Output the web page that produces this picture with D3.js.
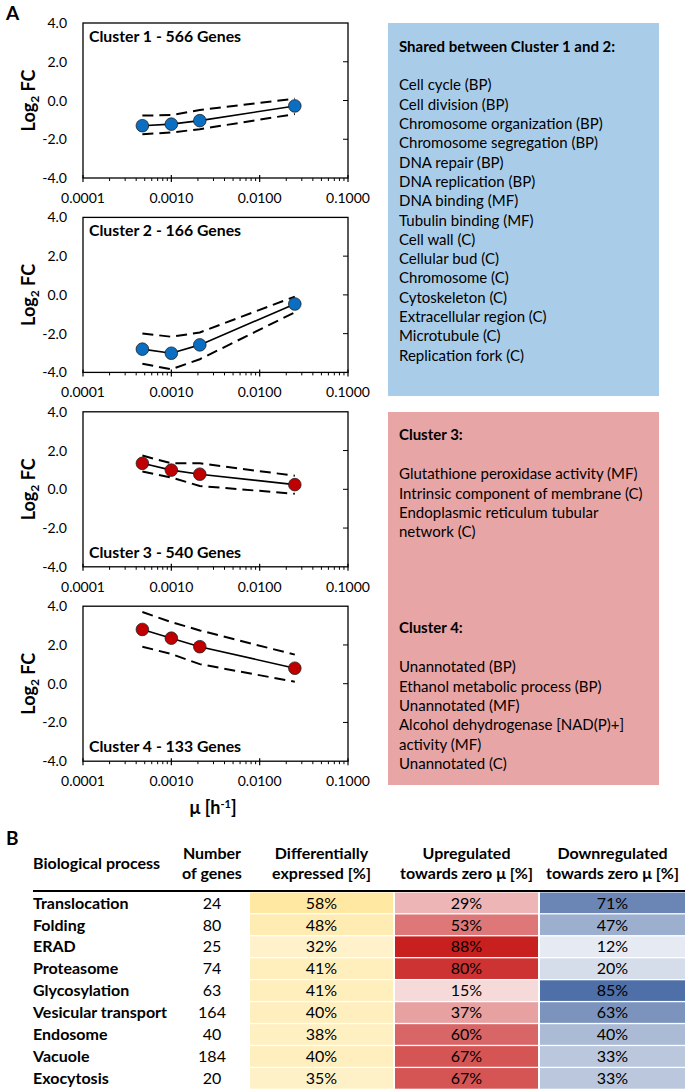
<!DOCTYPE html>
<html><head><meta charset="utf-8">
<script src="https://cdn.jsdelivr.net/npm/d3@7"></script>
<style>
html,body{margin:0;padding:0;background:#fff;}
svg text{font-family:Lato, "Open Sans", sans-serif;fill:#000;}
</style></head>
<body><svg id="c" width="685" height="1090"></svg>
<script>
// ---------- Data ----------
const growthRates = [0.00047, 0.001, 0.0021, 0.025];
const clusterNames = ["Cluster 1 - 566 Genes","Cluster 2 - 166 Genes","Cluster 3 - 540 Genes","Cluster 4 - 133 Genes"];
const clusterMean = [
  [-1.30,-1.22,-1.04,-0.28],
  [-2.80,-3.01,-2.58,-0.47],
  [1.34,0.99,0.78,0.24],
  [2.80,2.35,1.91,0.80]
];
const clusterUpper = [
  [-0.78,-0.75,-0.49,0.09],
  [-1.99,-2.16,-1.94,-0.09],
  [1.74,1.34,1.34,0.70],
  [3.70,3.18,2.75,1.50]
];
const clusterLower = [
  [-1.74,-1.65,-1.48,-0.70],
  [-3.55,-3.84,-3.32,-0.90],
  [0.92,0.61,0.17,-0.23],
  [1.91,1.53,1.01,0.10]
];
const yTicks = [-4,-2,0,2,4];
const xTicks = [0.0001,0.001,0.01,0.1];

const sharedTitle = "Shared between Cluster 1 and 2:";
const sharedTerms = ["Cell cycle (BP)","Cell division (BP)","Chromosome organization (BP)","Chromosome segregation (BP)","DNA repair (BP)","DNA replication (BP)","DNA binding (MF)","Tubulin binding (MF)","Cell wall (C)","Cellular bud (C)","Chromosome (C)","Cytoskeleton (C)","Extracellular region (C)","Microtubule (C)","Replication fork (C)"];
const cluster3Title = "Cluster 3:";
const cluster3Terms = ["Glutathione peroxidase activity (MF)","Intrinsic component of membrane (C)","Endoplasmic reticulum tubular","network (C)"];
const cluster4Title = "Cluster 4:";
const cluster4Terms = ["Unannotated (BP)","Ethanol metabolic process (BP)","Unannotated (MF)","Alcohol dehydrogenase [NAD(P)+]","activity (MF)","Unannotated (C)"];

const processes = ["Translocation","Folding","ERAD","Proteasome","Glycosylation","Vesicular transport","Endosome","Vacuole","Exocytosis"];
const nGenes = [24,80,25,74,63,164,40,184,20];
const diffExpressed = [58,48,32,41,41,40,38,40,35];
const upregulated = [29,53,88,80,15,37,60,67,67];
const downregulated = [71,47,12,20,85,63,40,33,33];

// ---------- Layout ----------
const svg = d3.select("#c");
const plotL = 83, plotR = 348, plotH = 155, firstTop = 23, panelStep = 194.4;
const x = d3.scaleLog().domain([0.0001,0.1]).range([plotL, plotR]);
const colors = ["#0a6fc2","#0a6fc2","#c00000","#c00000"];

svg.append("text").attr("x",6).attr("y",20).attr("font-size",19).attr("font-weight","bold").text("A");

clusterNames.forEach((name,i)=>{
  const top = firstTop + i*panelStep, bot = top + plotH;
  const y = d3.scaleLinear().domain([-4,4]).range([bot, top]);
  const g = svg.append("g");
  g.append("rect").attr("x",plotL).attr("y",top).attr("width",plotR-plotL).attr("height",plotH)
    .attr("fill","none").attr("stroke","#000").attr("stroke-width",1.3);
  yTicks.forEach(t=>{
    g.append("text").attr("x",67).attr("y",y(t)).attr("dy","0.36em").attr("text-anchor","end")
      .attr("font-size",14).text(t.toFixed(1));
    if(t>-4 && t<4) g.append("line").attr("x1",plotR-5).attr("x2",plotR).attr("y1",y(t)).attr("y2",y(t)).attr("stroke","#000").attr("stroke-width",1);
  });
  const minors = [];
  for(let e=-4;e<-1;e++){ for(let k=2;k<=9;k++) minors.push(k*Math.pow(10,e)); }
  minors.forEach(v=>{
    g.append("line").attr("x1",x(v)).attr("x2",x(v)).attr("y1",bot).attr("y2",bot+3).attr("stroke","#000").attr("stroke-width",1);
  });
  xTicks.forEach(v=>{
    g.append("line").attr("x1",x(v)).attr("x2",x(v)).attr("y1",bot-3).attr("y2",bot+4).attr("stroke","#000").attr("stroke-width",1.2);
    g.append("text").attr("x",x(v)).attr("y",bot+20).attr("dy","0.36em").attr("text-anchor","middle")
      .attr("font-size",14).text(v.toFixed(4));
  });
  const yt = g.append("text").attr("transform",`translate(35,${(top+bot)/2}) rotate(-90)`)
    .attr("text-anchor","middle").attr("font-size",18).attr("font-weight","bold");
  yt.append("tspan").text("Log");
  yt.append("tspan").attr("font-size",12).attr("dy",4).text("2");
  yt.append("tspan").attr("dy",-4).text(" FC");
  const line = d3.line().x((d,j)=>x(growthRates[j])).y(d=>y(d));
  g.append("path").attr("d",line(clusterUpper[i])).attr("fill","none").attr("stroke","#000").attr("stroke-width",2).attr("stroke-dasharray","11,6");
  g.append("path").attr("d",line(clusterLower[i])).attr("fill","none").attr("stroke","#000").attr("stroke-width",2).attr("stroke-dasharray","11,6");
  g.append("path").attr("d",line(clusterMean[i])).attr("fill","none").attr("stroke","#000").attr("stroke-width",1.6);
  g.selectAll("circle").data(clusterMean[i]).join("circle")
    .attr("cx",(d,j)=>x(growthRates[j])).attr("cy",d=>y(d)).attr("r",6.3)
    .attr("fill",colors[i]).attr("stroke","#222").attr("stroke-width",0.8);
  g.append("text").attr("x",89).attr("y", i<2 ? top+19 : bot-9).attr("font-size",15.8).attr("font-weight","bold").text(name);
});

svg.append("text").attr("x",213).attr("y",808).attr("dy","0.36em").attr("text-anchor","middle")
  .attr("font-size",18).attr("font-weight","bold")
  .call(t=>{ t.append("tspan").text("μ [h"); t.append("tspan").attr("font-size",11).attr("dy",-6).text("-1"); t.append("tspan").attr("dy",6).text("]"); });

// ---------- Text boxes ----------
const boxX = 388, boxW = 271, textX = 399, lineH = 19.3;
svg.append("rect").attr("x",boxX).attr("y",23).attr("width",boxW).attr("height",373).attr("fill","#a9cde9");
svg.append("rect").attr("x",boxX).attr("y",412).attr("width",boxW).attr("height",373).attr("fill","#e8a5a5");
function block(title, terms, titleY, firstY){
  svg.append("text").attr("x",textX).attr("y",titleY).attr("dy","0.36em").attr("font-size",15).attr("font-weight","bold").text(title);
  terms.forEach((t,k)=>svg.append("text").attr("x",textX).attr("y",firstY+k*lineH).attr("dy","0.36em").attr("font-size",15).text(t));
}
block(sharedTitle, sharedTerms, 47, 85);
block(cluster3Title, cluster3Terms, 435, 474);
block(cluster4Title, cluster4Terms, 628, 667);

// ---------- Table ----------
svg.append("text").attr("x",6).attr("y",845).attr("font-size",19).attr("font-weight","bold").text("B");
const headerY1 = 853, headerY2 = 873, fs = 16;
const colNum = 212;
const cols = [
  {x0:250,x1:393,vals:diffExpressed,base:"#ffd75e",h:["Differentially","expressed [%]"]},
  {x0:395,x1:538,vals:upregulated,base:"#c00000",h:["Upregulated","towards zero μ [%]"]},
  {x0:540,x1:685,vals:downregulated,base:"#2f5597",h:["Downregulated","towards zero μ [%]"]}
];
svg.append("text").attr("x",33).attr("y",863).attr("dy","0.36em").attr("font-size",fs).attr("font-weight","bold").text("Biological process");
svg.append("text").attr("x",colNum).attr("y",headerY1).attr("dy","0.36em").attr("text-anchor","middle").attr("font-size",fs).attr("font-weight","bold").text("Number");
svg.append("text").attr("x",colNum).attr("y",headerY2).attr("dy","0.36em").attr("text-anchor","middle").attr("font-size",fs).attr("font-weight","bold").text("of genes");
cols.forEach(c=>{
  const cx=(c.x0+c.x1)/2;
  svg.append("text").attr("x",cx).attr("y",headerY1).attr("dy","0.36em").attr("text-anchor","middle").attr("font-size",fs).attr("font-weight","bold").text(c.h[0]);
  svg.append("text").attr("x",cx).attr("y",headerY2).attr("dy","0.36em").attr("text-anchor","middle").attr("font-size",fs).attr("font-weight","bold").text(c.h[1]);
});
const rowTop = 892.5, rowH = 21.8;
const yRow = d3.scaleBand().domain(d3.range(processes.length)).range([rowTop, rowTop+rowH*processes.length]).paddingInner(0.06);
processes.forEach((p,r)=>{
  const yc = yRow(r)+yRow.bandwidth()/2;
  cols.forEach(c=>{
    const col = d3.interpolateRgb("#ffffff", c.base)(c.vals[r]/100);
    svg.append("rect").attr("x",c.x0).attr("y",yRow(r)).attr("width",c.x1-c.x0).attr("height",yRow.bandwidth()).attr("fill",col);
    svg.append("text").attr("x",(c.x0+c.x1)/2).attr("y",yc).attr("dy","0.36em").attr("text-anchor","middle").attr("font-size",fs).text(c.vals[r]+"%");
  });
  svg.append("text").attr("x",33).attr("y",yc).attr("dy","0.36em").attr("font-size",fs).attr("font-weight","bold").text(p);
  svg.append("text").attr("x",colNum).attr("y",yc).attr("dy","0.36em").attr("text-anchor","middle").attr("font-size",fs).text(nGenes[r]);
});
svg.append("line").attr("x1",33).attr("x2",685).attr("y1",891).attr("y2",891).attr("stroke","#000").attr("stroke-width",2.2);
</script></body></html>
